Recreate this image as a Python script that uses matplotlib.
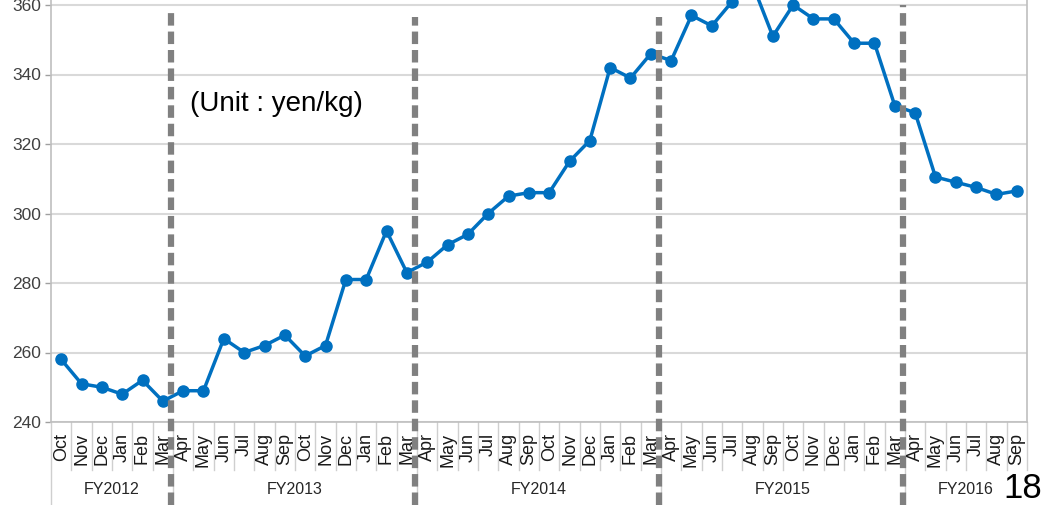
import numpy as np
import matplotlib
matplotlib.use("Agg")
import matplotlib.pyplot as plt
from matplotlib import font_manager

# monthly price, Oct FY2012 .. Sep FY2016
months = ["Oct", "Nov", "Dec", "Jan", "Feb", "Mar",
          "Apr", "May", "Jun", "Jul", "Aug", "Sep", "Oct", "Nov", "Dec", "Jan", "Feb", "Mar",
          "Apr", "May", "Jun", "Jul", "Aug", "Sep", "Oct", "Nov", "Dec", "Jan", "Feb", "Mar",
          "Apr", "May", "Jun", "Jul", "Aug", "Sep", "Oct", "Nov", "Dec", "Jan", "Feb", "Mar",
          "Apr", "May", "Jun", "Jul", "Aug", "Sep"]
price = [258, 251, 250, 248, 252, 246,
         249, 249, 264, 260, 262, 265, 259, 262, 281, 281, 295, 283,
         286, 291, 294, 300, 305, 306, 306, 315, 321, 342, 339, 346,
         344, 357, 354, 361, 366, 351, 360, 356, 356, 349, 349, 331,
         329, 310.5, 309, 307.5, 305.5, 306.5]
fy_names = ["FY2012", "FY2013", "FY2014", "FY2015", "FY2016"]
fy_sizes = [6, 12, 12, 12, 6]
yticks = [240, 260, 280, 300, 320, 340, 360]

names = {f.name for f in font_manager.fontManager.ttflist}
narrow = "Liberation Sans Narrow" if "Liberation Sans Narrow" in names else "Liberation Sans"
plt.rcParams["font.family"] = ["Liberation Sans", "DejaVu Sans"]

W, H = 1051, 505
fig = plt.figure(figsize=(W / 100, H / 100), dpi=100)
# plot area: x 51..1027 px, y=240 at 422 px, y=360 at 5 px (top cut off)
ax_h = (422 - 5) / 6 * 7
ax = fig.add_axes([51 / W, (H - 422) / H, (1027 - 51) / W, ax_h / H])

def pyfrac(py):
    return (422 - py) / ax_h

x = np.arange(len(price))
ax.set_xlim(-0.5, len(price) - 0.5)
ax.set_ylim(240, 380)
ax.set_yticks(yticks)
ax.set_yticklabels([str(v) for v in yticks], fontfamily=narrow, fontsize=12.5, color="#404040")
ax.tick_params(axis="y", length=4, width=1, color="#a0a0a0", pad=3)
ax.set_xticks([])
ax.grid(axis="y", color="#d9d9d9", lw=1.5)
ax.set_axisbelow(True)
ax.spines["top"].set_visible(False)
for s in ["left", "right", "bottom"]:
    ax.spines[s].set_color("#bfbfbf")
    ax.spines[s].set_linewidth(1.2)

ax.plot(x, price, color="#0070c0", lw=2.5, marker="o", ms=8, zorder=3)

tr = ax.get_xaxis_transform()
# month labels and separators
for i, m in enumerate(months):
    ax.text(i, pyfrac(433), m, rotation=90, ha="center", va="top",
            fontsize=13, color="#1a1a1a", transform=tr)
bounds = np.cumsum([0] + fy_sizes) - 0.5
for b in np.arange(-0.5, len(price)):
    bot = 505 if b in bounds[:-1] else 470
    ax.plot([b, b], [0, pyfrac(bot)], color="#cfcfcf", lw=1, transform=tr, clip_on=False)

# fiscal year labels
start = 0
for name, n in zip(fy_names, fy_sizes):
    ax.text(start + (n - 1) / 2, pyfrac(490), name, ha="center", va="center",
            fontfamily=narrow, fontsize=11.5, color="#262626", transform=tr)
    start += n

# dashed year dividers
for b, top in zip(bounds[1:-1], [13, 17, 17, 5]):
    ax.plot([b - 0.08, b - 0.08], [pyfrac(505), pyfrac(top)], color="#808080", lw=4.5,
            dashes=(2.0, 0.95), transform=tr, clip_on=False, zorder=4)

ax.text(6.34, pyfrac(104), "(Unit : yen/kg)", ha="left", va="center", fontsize=20,
        color="black", transform=tr)
fig.text(1042 / W, 1 - 488 / H, "18", ha="right", va="center", fontsize=25, color="black")

fig.savefig("out.png", dpi=100)
